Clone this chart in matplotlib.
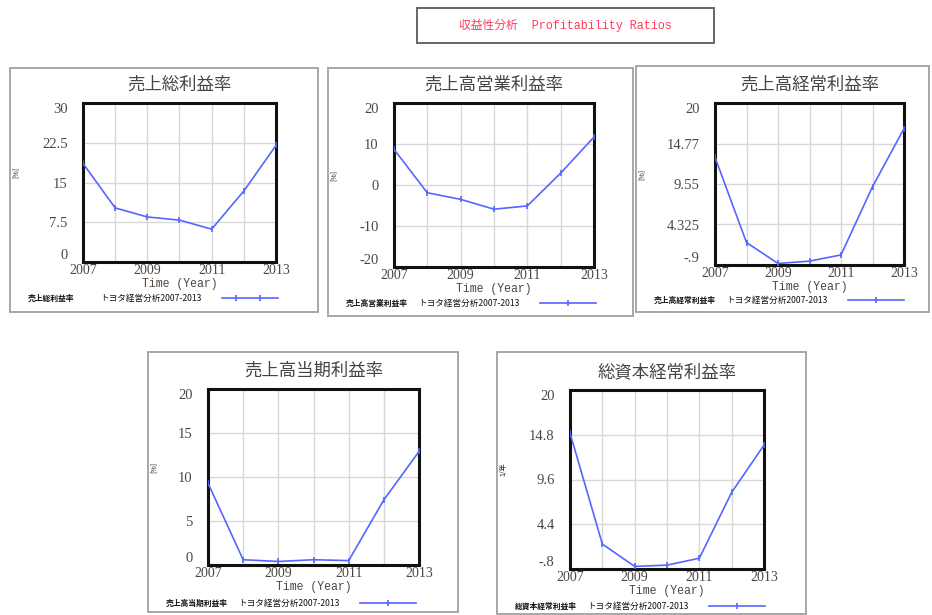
import matplotlib
matplotlib.use("Agg")
import matplotlib.pyplot as plt
from matplotlib.patches import Rectangle
from matplotlib.lines import Line2D

W, H = 932, 615

years = [2007, 2008, 2009, 2010, 2011, 2012, 2013]
year_ticks = [2007, 2009, 2011, 2013]

titles = ["売上総利益率", "売上高営業利益率", "売上高経常利益率", "売上高当期利益率", "総資本経常利益率"]
units = ["[%]", "[%]", "[%]", "[%]", "1/年"]
gross_margin = [18.6, 10.2, 8.5, 7.9, 6.2, 13.4, 22.0]
operating_margin = [8.7, -1.9, -3.5, -5.9, -5.1, 2.9, 11.7]
ordinary_margin = [13.0, 2.0, -0.7, -0.4, 0.4, 9.2, 16.7]
net_margin = [9.3, 0.6, 0.4, 0.6, 0.5, 7.4, 12.9]
roa_ordinary = [15.0, 2.1, -0.5, -0.35, 0.45, 8.1, 13.6]
series = [gross_margin, operating_margin, ordinary_margin, net_margin, roa_ordinary]

y_ticks = [
    [0, 7.5, 15, 22.5, 30],
    [-20, -10, 0, 10, 20],
    [-0.9, 4.325, 9.55, 14.77, 20],
    [0, 5, 10, 15, 20],
    [-0.8, 4.4, 9.6, 14.8, 20],
]
y_tick_labels = [
    ["0", "7.5", "15", "22.5", "30"],
    ["-20", "-10", "0", "10", "20"],
    ["-.9", "4.325", "9.55", "14.77", "20"],
    ["0", "5", "10", "15", "20"],
    ["-.8", "4.4", "9.6", "14.8", "20"],
]
legend_source = "トヨタ経営分析2007-2013"
header = "収益性分析  Profitability Ratios"

# panel layout in pixels: (frame box, axes box) as (x0, y0, x1, y1), y from top
frames = [
    (10, 68, 318, 312),
    (328, 68, 633, 316),
    (636, 66, 929, 312),
    (148, 352, 458, 612),
    (497, 352, 806, 614),
]
axes_boxes = [
    (83, 103, 276, 262),
    (394, 103, 594, 267),
    (715, 103, 904, 265),
    (208, 389, 419, 565),
    (570, 390, 764, 569),
]
legend_rows = [298, 303, 300, 603, 606]
n_markers = [2, 1, 1, 1, 1]

LINE = "#5566ff"
TXT = "#4e4640"
CJK = ["Noto Sans CJK JP", "DejaVu Sans"]

fig = plt.figure(figsize=(W / 100, H / 100), dpi=100)
fig.patch.set_facecolor("white")


def fx(x):
    return x / W


def fy(y):
    return 1 - y / H


def fig_rect(x0, y0, x1, y1, **kw):
    r = Rectangle((fx(x0), fy(y1)), fx(x1 - x0), (y1 - y0) / H,
                  transform=fig.transFigure, fill=False, **kw)
    fig.patches.append(r)


# header box
fig_rect(417, 8, 714, 43, edgecolor="#666666", linewidth=1.4)
fig.text(fx(565), fy(25), header, color="#ff3a5c", fontsize=8.5,
         family=["Liberation Mono", "Noto Sans CJK JP"],
         ha="center", va="center")

for i in range(5):
    fx0, fy0, fx1, fy1 = frames[i]
    fig_rect(fx0, fy0, fx1, fy1, edgecolor="#a0a0a0", linewidth=1.3)

    ax0, ay0, ax1, ay1 = axes_boxes[i]
    ax = fig.add_axes([fx(ax0), fy(ay1), fx(ax1 - ax0), (ay1 - ay0) / H])
    ax.plot(years, series[i], color=LINE, linewidth=1.2,
            marker="|", markersize=5, markeredgewidth=1.2, zorder=3)
    ax.set_xlim(2007, 2013)
    ax.set_ylim(y_ticks[i][0], y_ticks[i][-1])
    ax.set_xticks(years)
    ax.set_xticklabels([str(y) if y in year_ticks else "" for y in years])
    ax.set_yticks(y_ticks[i])
    ax.set_yticklabels(y_tick_labels[i])
    ax.grid(True, color="#d8d8d8", linewidth=1.0)
    ax.set_axisbelow(True)
    ax.tick_params(length=0, labelsize=10.5, labelcolor=TXT)
    ax.tick_params(axis="x", pad=1.5, labelsize=10)
    ax.tick_params(axis="y", pad=11)
    for lab in ax.get_xticklabels() + ax.get_yticklabels():
        lab.set_family("Liberation Serif")
    ylabs = ax.get_yticklabels()
    ylabs[0].set_verticalalignment("bottom")
    ylabs[-1].set_verticalalignment("top")
    for sp in ax.spines.values():
        sp.set_linewidth(2.2)
        sp.set_color("#111111")
    ax.set_xlabel("Time (Year)", family="Liberation Mono", fontsize=8.3,
                  color=TXT, labelpad=0.5)

    cx = (ax0 + ax1) / 2
    fig.text(fx(cx), fy(ay0 - 18), titles[i], family=CJK, fontsize=12.5,
             color="#444444", ha="center", va="center")

    # unit label on the left edge of the frame
    fig.text(fx(fx0 + 6), fy((ay0 + ay1) / 2 - 10), units[i], family=CJK,
             fontsize=5, rotation=90, ha="center", va="center", color="#222222")

    # legend row
    ly = legend_rows[i]
    fig.text(fx(fx0 + 18), fy(ly), titles[i], family=CJK, fontsize=5.6,
             fontweight="bold", ha="left", va="center", color="#111111")
    fig.text(fx(fx0 + 90), fy(ly), legend_source, family=CJK, fontsize=6.2,
             ha="left", va="center", color="#111111")
    lx0, lx1 = fx(fx0 + 212), fx(fx0 + 268)
    fig.lines.append(Line2D([lx0, lx1], [fy(ly), fy(ly)], transform=fig.transFigure,
                            color=LINE, linewidth=1.2))
    if n_markers[i] == 2:
        mxs = [fx0 + 226, fx0 + 250]
    else:
        mxs = [fx0 + 240]
    for mx in mxs:
        fig.lines.append(Line2D([fx(mx)], [fy(ly)], transform=fig.transFigure,
                                color=LINE, marker="|", markersize=5,
                                markeredgewidth=1.2, linestyle="none"))

fig.savefig("out.png", dpi=100, facecolor="white")
